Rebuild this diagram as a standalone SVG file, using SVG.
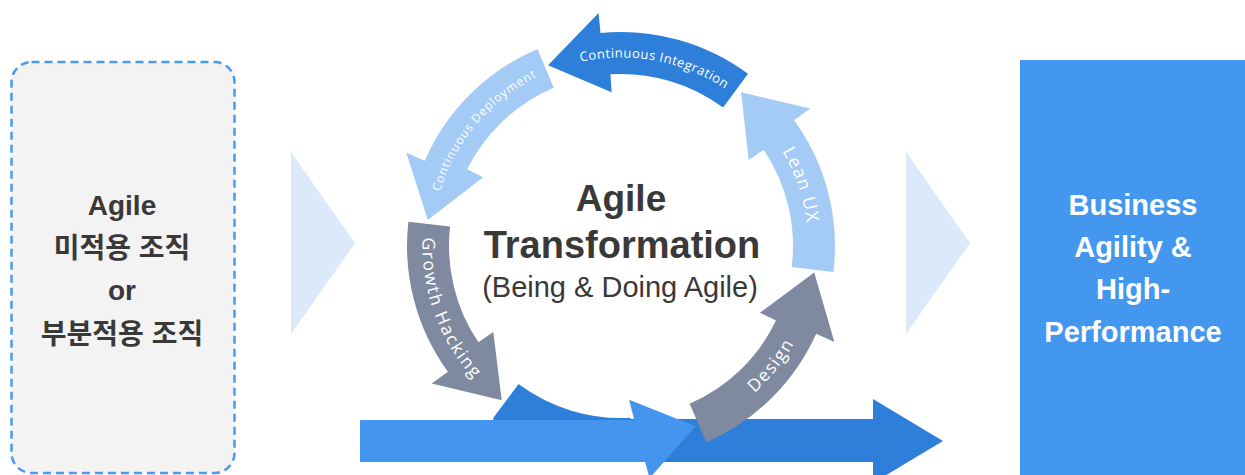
<svg xmlns="http://www.w3.org/2000/svg" width="1245" height="475" viewBox="0 0 1245 475">
  <style>
    .dark { fill: #2e7fda; }
    .light { fill: #a3cbf5; }
    .gray { fill: #7f8aa1; }
    .mid { fill: #4395ee; }
    .tri { fill: #dbe9fa; }
    .lbl { fill: #ffffff; font-family: "Open Sans", "Noto Sans", sans-serif; font-weight: 500; }
    .ctr { fill: #3b3838; font-family: "Liberation Sans", Arial, sans-serif; text-anchor: middle; }
    .side { fill: #3b3838; font-family: "Liberation Sans", "Noto Sans CJK KR", sans-serif; font-weight: bold; font-size: 28px; text-anchor: middle; }
    .res { fill: #ffffff; font-family: "Liberation Sans", Arial, sans-serif; font-weight: bold; font-size: 29px; text-anchor: middle; }
  </style>
  <defs>
    <path id="tp-ci" d="M528.5,81.8 A188.5,188.5 0 0,1 766.7,126.4"/>
    <path id="tp-cd" d="M432.0,245.3 A189,189 0 0,1 588.8,59.8"/>
    <path id="tp-lux" d="M718.2,86.2 A187,187 0 0,1 795.2,313.9"/>
    <path id="tp-gh" d="M434.4,178.1 A198.6,198.6 0 0,0 521.7,418.0"/>
    <path id="tp-des" d="M660.6,440.6 A198.6,198.6 0 0,0 819.5,240.8"/>
  </defs>
  <rect width="1245" height="475" fill="#ffffff"/>

  <g id="node-before">
    <rect x="11.5" y="62" width="223" height="411" rx="20" ry="20" fill="#f3f3f3" stroke="#4a9af0" stroke-width="2.5" stroke-dasharray="8 5"/>
    <text class="side" x="122" y="215">Agile</text>
    <text class="side" x="122" y="258">미적용 조직</text>
    <text class="side" x="122" y="300">or</text>
    <text class="side" x="122" y="344">부분적용 조직</text>
  </g>

  <g id="node-after">
    <rect x="1020" y="60" width="225" height="415" fill="#4497ef"/>
    <text class="res" x="1133" y="215">Business</text>
    <text class="res" x="1133" y="257">Agility &amp;</text>
    <text class="res" x="1133" y="299">High-</text>
    <text class="res" x="1133" y="342">Performance</text>
  </g>

  <g id="connectors">
    <polygon class="tri" points="291,152 355,243 291,334"/>
    <polygon class="tri" points="906,152 970,243 906,334"/>
  </g>

  <g id="node-cycle">
    <path class="dark" d="M600,419 H873 V399 L943,441 L873,483 V462 H600 Z"/>
    <path class="dark" d="M493.4,417.8 L518.5,384.1 A172,172 0 0,0 630.0,417.8 L640,430 L493.4,430 Z"/>
    <rect class="mid" x="360" y="420" width="285" height="42"/>
    <polygon class="mid" points="629.1,399.8 695.6,426.2 649.5,478.3"/>
    <path class="light" d="M833.4,272.1 A214,214 0 0,0 794.1,120.2 L810.3,108.5 L741.1,92.3 L748.7,159.9 L763.6,149.8 A172,172 0 0,1 791.7,267.0 Z"/>
    <path class="dark" d="M748.0,73.8 A214,214 0 0,0 600.5,33.0 L598.6,13.1 L548.0,65.2 L611.6,92.3 L610.5,74.3 A172,172 0 0,1 723.1,107.6 Z"/>
    <path class="light" d="M537.4,49.0 A214,214 0 0,0 424.8,160.7 L406.4,152.7 L427.8,219.9 L483.2,177.3 L467.1,169.3 A172,172 0 0,1 553.8,87.7 Z"/>
    <path class="gray" d="M408.4,221.8 A214,214 0 0,0 447.9,371.8 L431.7,383.5 L501.7,400.3 L493.3,332.1 L478.4,342.2 A172,172 0 0,1 450.1,226.5 Z"/>
    <path class="gray" d="M706.3,442.2 A214,214 0 0,0 816.2,333.7 L834.4,341.9 L814.2,272.5 L759.8,312.8 L776.0,320.6 A172,172 0 0,1 689.6,403.7 Z"/>

    <text class="lbl" font-size="13" letter-spacing="0.5"><textPath href="#tp-ci" startOffset="50%" text-anchor="middle">Continuous Integration</textPath></text>
    <text class="lbl" font-size="12" letter-spacing="0.9"><textPath href="#tp-cd" startOffset="50%" text-anchor="middle">Continuous Deployment</textPath></text>
    <text class="lbl" font-size="18" letter-spacing="1.2"><textPath href="#tp-lux" startOffset="50%" text-anchor="middle">Lean UX</textPath></text>
    <text class="lbl" font-size="17.5" letter-spacing="1.8"><textPath href="#tp-gh" startOffset="50%" text-anchor="middle">Growth Hacking</textPath></text>
    <text class="lbl" font-size="17.5" letter-spacing="1.5"><textPath href="#tp-des" startOffset="50%" text-anchor="middle">Design</textPath></text>

    <text class="ctr" x="621" y="211" font-size="37" font-weight="bold">Agile</text>
    <text class="ctr" x="622" y="258" font-size="38" font-weight="bold">Transformation</text>
    <text class="ctr" x="620" y="297" font-size="29">(Being &amp; Doing Agile)</text>
  </g>
</svg>
